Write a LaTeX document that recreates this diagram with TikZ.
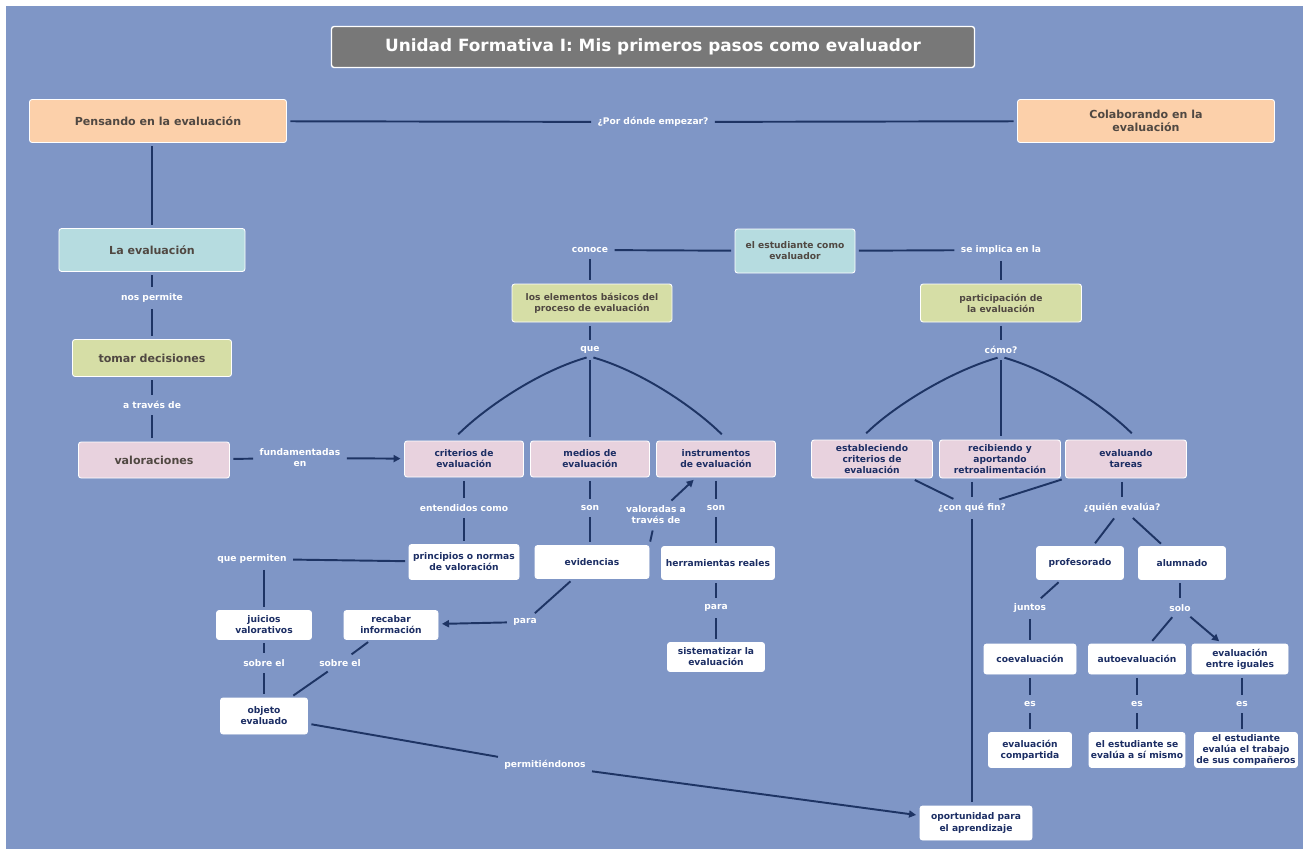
\documentclass[tikz,border=0pt]{standalone}
\usepackage{fontspec}
\setmainfont{DejaVu Sans}
\usetikzlibrary{arrows.meta}

\definecolor{fondo}{RGB}{127,150,198}
\definecolor{linea}{RGB}{30,52,100}
\definecolor{titulo}{RGB}{120,120,120}
\definecolor{melocoton}{RGB}{252,208,170}
\definecolor{celeste}{RGB}{182,220,224}
\definecolor{oliva}{RGB}{214,222,166}
\definecolor{rosa}{RGB}{232,210,222}
\definecolor{textoos}{RGB}{80,72,66}
\definecolor{azultx}{RGB}{28,46,100}

\newcommand{\fbig}{\fontsize{6.3}{7.5}\selectfont\bfseries}
\newcommand{\fsmall}{\fontsize{5.2}{6.3}\selectfont\bfseries}

\begin{document}
\begin{tikzpicture}[x=0.2mm,y=-0.2mm]

 \tikzset{
    box/.style={
      rectangle,
      rounded corners=1.5pt,
      draw=white,
      line width=0.5pt,
      align=center,
      inner sep=1pt,
      font=\fsmall
    },
    cbox/.style={box, font=\fbig, text=textoos},
    pbox/.style={box, fill=rosa, text=azultx, minimum width=23.8mm, minimum height=7.2mm},
    wbox/.style={box, fill=white, text=azultx},
    lbl/.style={text=white, font=\fsmall, align=center, inner sep=1.5pt},
    con/.style={draw=linea, line width=1.1pt, shorten <=2pt, shorten >=2pt},
    arc/.style={con, shorten >=5pt},
    arr/.style={con, -{Triangle[length=4pt,width=4pt]}}
  }

% fondo
\fill[white] (0,0) rectangle (1303,855);
\fill[fondo] (6,6) rectangle (1303,849);

% cabecera
\node[box, fill=titulo, text=white, font=\fontsize{9.6}{11}\selectfont\bfseries,
  minimum width=128.6mm, minimum height=8.2mm, line width=0.8pt] (title) at (653,47)
  {Unidad Formativa I: Mis primeros pasos como evaluador};

\node[cbox, fill=melocoton, minimum width=51.4mm, minimum height=8.6mm] (pensando) at (158,121)
  {Pensando en la evaluación};
\node[lbl] (porDonde) at (653,122) {¿Por dónde empezar?};
\node[cbox, fill=melocoton, minimum width=51.4mm, minimum height=8.6mm] (colaborando) at (1146,121)
  {Colaborando en la\\evaluación};

% columna izquierda
\node[cbox, fill=celeste, minimum width=37.2mm, minimum height=8.6mm] (laEval) at (152,250) {La evaluación};
\node[lbl] (nosPermite) at (152,298) {nos permite};
\node[cbox, fill=oliva, minimum width=31.8mm, minimum height=7.4mm] (tomarDec) at (152,358) {tomar decisiones};
\node[lbl] (aTraves) at (152,405) {a través de};
\node[cbox, fill=rosa, minimum width=30.2mm, minimum height=7.2mm] (valoraciones) at (154,460) {valoraciones};
\node[lbl] (fundamentadas) at (300,458) {fundamentadas\\en};

% centro
\node[box, fill=celeste, text=textoos, minimum width=24mm, minimum height=8.8mm] (estudiante) at (795,251)
  {el estudiante como\\evaluador};
\node[lbl] (conoce) at (590,250) {conoce};
\node[box, fill=oliva, text=textoos, minimum width=32mm, minimum height=7.6mm] (elementos) at (592,303)
  {los elementos básicos del\\proceso de evaluación};
\node[lbl] (que) at (590,350) {que};

\node[pbox] (criterios) at (464,459) {criterios de\\evaluación};
\node[pbox] (medios) at (590,459) {medios de\\evaluación};
\node[pbox] (instrumentos) at (716,459) {instrumentos\\de evaluación};

\node[lbl] (entendidos) at (464,508) {entendidos como};
\node[lbl] (son1) at (590,508) {son};
\node[lbl] (valoradas) at (656,515) {valoradas a\\través de};
\node[lbl] (son2) at (716,508) {son};

\node[wbox, minimum width=22mm, minimum height=7mm] (principios) at (464,562) {principios o normas\\de valoración};
\node[wbox, minimum width=22.8mm, minimum height=6.6mm] (evidencias) at (592,562) {evidencias};
\node[wbox, minimum width=22.6mm, minimum height=6.6mm] (herramientas) at (718,563) {herramientas reales};

\node[lbl] (quePermiten) at (252,559) {que permiten};
\node[lbl] (para2) at (525,622) {para};
\node[lbl] (para1) at (716,608) {para};

\node[wbox, minimum width=19mm, minimum height=5.8mm] (juicios) at (264,625) {juicios\\valorativos};
\node[wbox, minimum width=18.8mm, minimum height=5.8mm] (recabar) at (391,625) {recabar\\información};
\node[wbox, minimum width=19.4mm, minimum height=5.8mm] (sistematizar) at (716,657) {sistematizar la\\evaluación};

\node[lbl] (sobre1) at (264,663) {sobre el};
\node[lbl] (sobre2) at (340,663) {sobre el};
\node[wbox, minimum width=17.4mm, minimum height=7.2mm] (objeto) at (264,716) {objeto\\evaluado};
\node[lbl] (permitiendo) at (545,765) {permitiéndonos};

% derecha
\node[lbl] (implica) at (1001,250) {se implica en la};
\node[box, fill=oliva, text=textoos, minimum width=32.2mm, minimum height=7.6mm] (participacion) at (1001,303)
  {participación de\\la evaluación};
\node[lbl] (como) at (1001,350) {cómo?};

\node[pbox, minimum width=24.2mm, minimum height=7.6mm] (estableciendo) at (872,459)
  {estableciendo\\criterios de\\evaluación};
\node[pbox, minimum width=24.2mm, minimum height=7.6mm] (recibiendo) at (1000,459)
  {recibiendo y\\aportando\\retroalimentación};
\node[pbox, minimum width=24.2mm, minimum height=7.6mm] (evaluando) at (1126,459)
  {evaluando\\tareas};

\node[lbl] (conQueFin) at (972,508) {¿con qué fin?};
\node[lbl] (quienEvalua) at (1122,508) {¿quién evalúa?};

\node[wbox, minimum width=17.4mm, minimum height=6.6mm] (profesorado) at (1080,563) {profesorado};
\node[wbox, minimum width=17.4mm, minimum height=6.6mm] (alumnado) at (1182,563) {alumnado};
\node[lbl] (juntos) at (1030,608) {juntos};
\node[lbl] (solo) at (1180,608) {solo};

\node[wbox, minimum width=18.4mm, minimum height=6mm] (coeval) at (1030,659) {coevaluación};
\node[wbox, minimum width=19.4mm, minimum height=6mm] (autoeval) at (1137,659) {autoevaluación};
\node[wbox, minimum width=19.2mm, minimum height=6mm] (entreIguales) at (1240,659) {evaluación\\entre iguales};

\node[lbl] (es1) at (1030,704) {es};
\node[lbl] (es2) at (1137,704) {es};
\node[lbl] (es3) at (1242,704) {es};

\node[wbox, minimum width=16.6mm, minimum height=7mm] (compartida) at (1030,750) {evaluación\\compartida};
\node[wbox, minimum width=18.2mm, minimum height=7mm] (seEvalua) at (1137,750) {el estudiante se\\evalúa a sí mismo};
\node[wbox, minimum width=19.8mm, minimum height=7mm] (evaluaTrabajo) at (1246,750)
  {el estudiante\\evalúa el trabajo\\de sus compañeros};

\node[wbox, minimum width=22.4mm, minimum height=6.8mm] (oportunidad) at (976,823) {oportunidad para\\el aprendizaje};

% conectores
\draw[con] (pensando) -- (porDonde);
\draw[con] (porDonde) -- (colaborando);
\draw[con] (pensando.south -| laEval) -- (laEval);
\draw[con] (laEval) -- (nosPermite);
\draw[con] (nosPermite) -- (tomarDec);
\draw[con] (tomarDec) -- (aTraves);
\draw[con] (aTraves) -- (aTraves |- valoraciones.north);
\draw[con] (valoraciones) -- (fundamentadas);
\draw[arr] (fundamentadas) -- (criterios);

\draw[con] (estudiante) -- (conoce);
\draw[con] (conoce) -- (conoce |- elementos.north);
\draw[con] (que |- elementos.south) -- (que);
\draw[arc] (que.south) .. controls +(-55,16) and +(30,-30) .. ([xshift=-2.4mm]criterios.north);
\draw[con] (que) -- (medios);
\draw[arc] (que.south) .. controls +(55,16) and +(-30,-30) .. ([xshift=2.4mm]instrumentos.north);

\draw[con] (criterios) -- (entendidos);
\draw[con] (entendidos) -- (principios);
\draw[con] (principios) -- (quePermiten);
\draw[con] (quePermiten.south -| juicios) -- (juicios);
\draw[con] (juicios) -- (sobre1);
\draw[con] (sobre1) -- (objeto);

\draw[con] (medios) -- (son1);
\draw[con] (son1) -- (son1 |- evidencias.north);
\draw[con] (evidencias.north east) -- (valoradas);
\draw[arr] (valoradas) -- (instrumentos);
\draw[con] (evidencias) -- (para2);
\draw[arr] (para2) -- (recabar);
\draw[con] (recabar) -- (sobre2);
\draw[con] (sobre2) -- (objeto);

\draw[con] (instrumentos) -- (son2);
\draw[con] (son2) -- (son2 |- herramientas.north);
\draw[con] (para1 |- herramientas.south) -- (para1);
\draw[con] (para1) -- (sistematizar);

\draw[con] (objeto) -- (permitiendo);
\draw[arr] (permitiendo) -- (oportunidad);

\draw[con] (estudiante) -- (implica);
\draw[con] (implica) -- (participacion);
\draw[con] (participacion) -- (como);
\draw[arc] (como.south) .. controls +(-55,16) and +(30,-30) .. ([xshift=-2.4mm]estableciendo.north);
\draw[con] (como) -- (como |- recibiendo.north);
\draw[arc] (como.south) .. controls +(55,16) and +(-30,-30) .. ([xshift=2.4mm]evaluando.north);

\draw[con] (estableciendo) -- (conQueFin);
\draw[con] (evaluando.south west) -- (conQueFin);
\draw[con] (recibiendo.south -| conQueFin) -- (conQueFin);
\draw[con] (conQueFin) -- (conQueFin |- oportunidad.north);

\draw[con] (evaluando.south -| quienEvalua) -- (quienEvalua);
\draw[con] (quienEvalua) -- (profesorado);
\draw[con] (quienEvalua) -- (alumnado);
\draw[con] (profesorado) -- (juntos);
\draw[con] (juntos) -- (coeval);
\draw[con] (coeval) -- (es1);
\draw[con] (es1) -- (compartida);
\draw[con] (alumnado.south -| solo) -- (solo);
\draw[con] (solo) -- (autoeval);
\draw[arr] (solo) -- (entreIguales);
\draw[con] (autoeval) -- (es2);
\draw[con] (es2) -- (seEvalua);
\draw[con] (entreIguales.south -| es3) -- (es3);
\draw[con] (es3) -- (es3 |- evaluaTrabajo.north);
\end{tikzpicture}
\end{document}
